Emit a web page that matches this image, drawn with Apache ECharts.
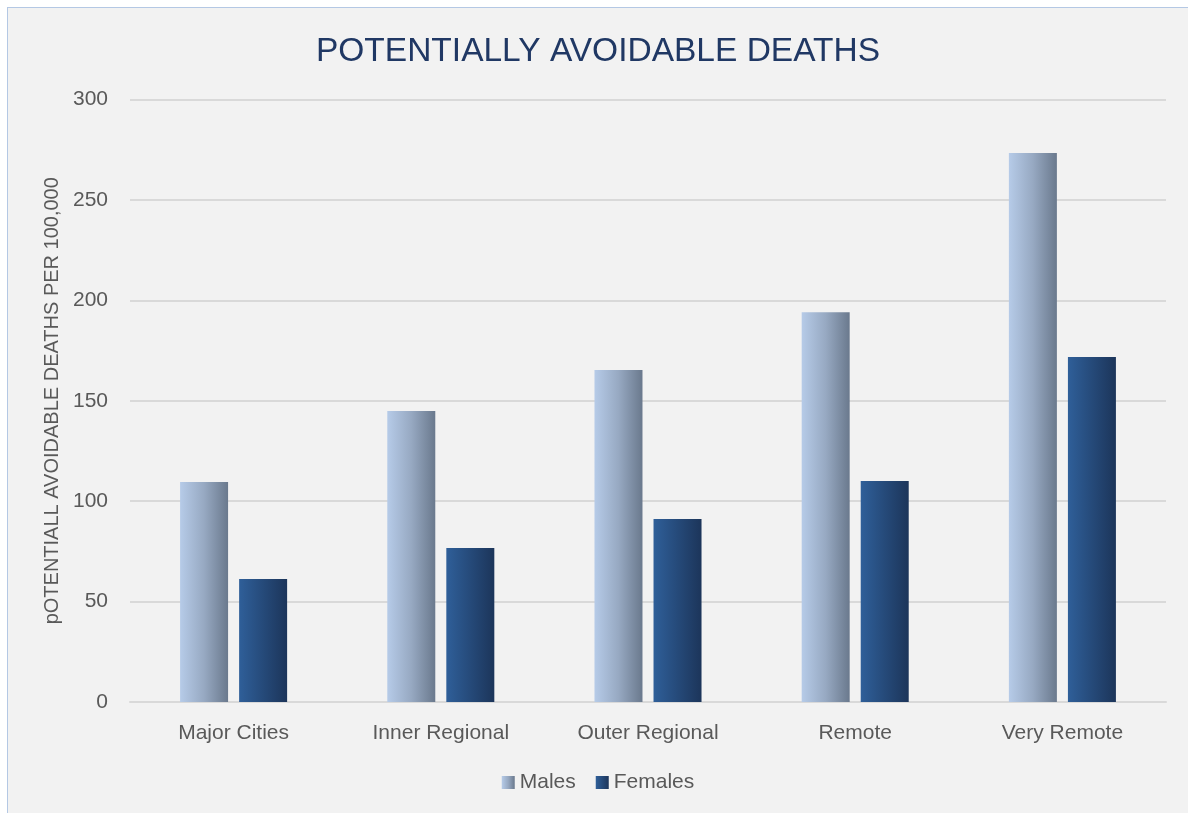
<!DOCTYPE html>
<html>
<head>
<meta charset="utf-8">
<script src="https://cdn.jsdelivr.net/npm/echarts@6/dist/echarts.min.js"></script>
<style>
  html, body { margin: 0; padding: 0; background: #ffffff; }
  #chart {
    position: absolute; left: 7px; top: 7px;
    width: 1180px; height: 805px;
    border-left: 1px solid #b4c8e4; border-top: 1px solid #b4c8e4;
    background: #f2f2f2;
  }
</style>
</head>
<body>
<div id="chart"></div>
<script>
const categories = ['Major Cities', 'Inner Regional', 'Outer Regional', 'Remote', 'Very Remote'];
const males = [109.5, 144.9, 165.3, 194.1, 273.3];
const females = [61.2, 76.7, 91.1, 110.0, 171.8];
const yTicks = { min: 0, max: 300, interval: 50 };

const FONT = '"Liberation Sans", Arial, sans-serif';
const chart = echarts.init(document.getElementById('chart'), null, { renderer: 'canvas' });

const maleGrad = new echarts.graphic.LinearGradient(0, 0, 1, 0, [
  { offset: 0, color: '#b6cbe8' },
  { offset: 0.5, color: '#97a9c2' },
  { offset: 1, color: '#6a798d' }
]);
const femaleGrad = new echarts.graphic.LinearGradient(0, 0, 1, 0, [
  { offset: 0, color: '#2f5f99' },
  { offset: 1, color: '#1c355a' }
]);

chart.setOption({
  backgroundColor: '#f2f2f2',
  animation: false,
  title: {
    text: 'POTENTIALLY AVOIDABLE DEATHS',
    left: 'center',
    top: 22,
    textStyle: { fontFamily: FONT, fontSize: 33.5, fontWeight: 'normal', color: '#203864' }
  },
  legend: {
    data: ['Males', 'Females'],
    icon: 'rect',
    left: 'center',
    top: 759,
    itemWidth: 13,
    itemHeight: 13,
    itemGap: 20,
    textStyle: { fontFamily: FONT, fontSize: 21, color: '#595959' }
  },
  grid: { left: 122, right: 22, top: 91.5, bottom: 111, containLabel: false },
  xAxis: {
    type: 'category',
    data: categories,
    axisLine: { show: true, lineStyle: { color: '#d9d9d9', width: 2 } },
    axisTick: { show: false },
    axisLabel: { fontFamily: FONT, fontSize: 21, color: '#595959', margin: 21 }
  },
  yAxis: {
    type: 'value',
    min: yTicks.min, max: yTicks.max, interval: yTicks.interval,
    name: 'pOTENTIALL AVOIDABLE DEATHS PER 100,000',
    nameLocation: 'middle',
    nameGap: 63,
    nameTextStyle: { fontFamily: FONT, fontSize: 20, color: '#595959' },
    axisLine: { show: false },
    axisTick: { show: false },
    axisLabel: { fontFamily: FONT, fontSize: 21, color: '#595959', margin: 22 },
    splitLine: { lineStyle: { color: '#d9d9d9', width: 2 } }
  },
  series: [
    {
      name: 'Males', type: 'bar', data: males,
      barWidth: 48, barGap: '23%',
      itemStyle: { color: maleGrad }
    },
    {
      name: 'Females', type: 'bar', data: females,
      barWidth: 48, barGap: '23%',
      itemStyle: { color: femaleGrad }
    }
  ]
});
</script>
</body>
</html>
